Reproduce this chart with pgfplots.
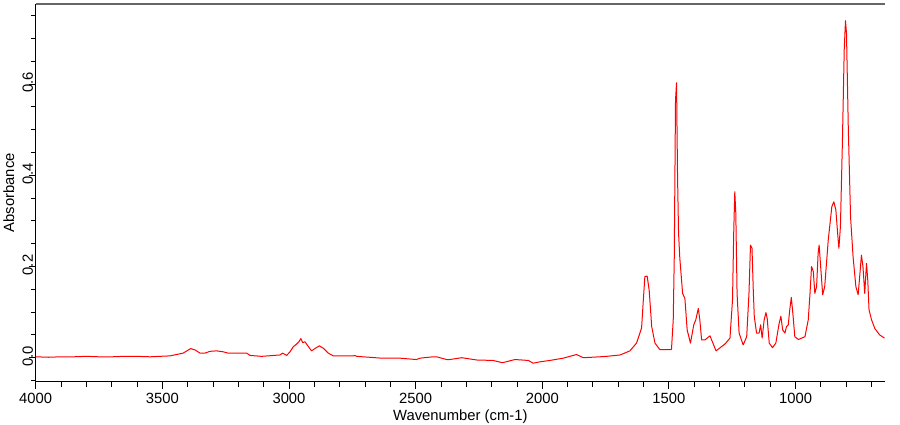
\documentclass[border=0pt]{standalone}
\usepackage{fontspec}
\setmainfont{Liberation Sans}
\usepackage{pgfplots}
\pgfplotsset{compat=1.18}
\begin{document}
\begin{tikzpicture}
\useasboundingbox (0,0) rectangle (900pt,425pt);
\begin{axis}[
  at={(35.7pt,43.3pt)}, anchor=south west,
  scale only axis, width=849.3pt, height=377.7pt,
  x dir=reverse, xmin=647, xmax=4000,
  ymin=-0.0526, ymax=0.7757,
  axis x line*=bottom, axis y line*=left,
  axis line style={black, line width=1pt, -},
  xtick={1000,1500,...,4000}, minor xtick={700,800,...,3900},
  ytick={0,0.2,0.4,0.6}, minor ytick={-0.05,0.05,0.1,0.15,0.25,0.3,0.35,0.45,0.5,0.55,0.65,0.7,0.75},
  tick align=outside, major tick length=7pt, minor tick length=5pt,
  tick style={black, line width=0.9pt},
  /pgf/number format/assume math mode=true,
  x tick label style={/pgf/number format/1000 sep={}},
  y tick label style={/pgf/number format/fixed, /pgf/number format/fixed zerofill, /pgf/number format/precision=1},
  tick label style={font=\fontsize{14.8}{17}\selectfont},
  xticklabel style={anchor=base, inner sep=0pt, yshift=-15pt},
  yticklabel style={rotate=90, anchor=base, inner sep=0pt, xshift=1.5pt, yshift=-4.3pt},
  xlabel={Wavenumber (cm-1)}, ylabel={Absorbance},
  every axis x label/.style={at={(axis description cs:0.5,0)}, anchor=base, inner sep=0pt, yshift=-39pt, font=\fontsize{14.8}{17}\selectfont},
  every axis y label/.style={at={(axis description cs:0,0.5)}, xshift=-21.5pt, rotate=90, anchor=base, inner sep=0pt, font=\fontsize{14.8}{17}\selectfont},
  clip=true,
]
\draw[gray!80!black, line width=1.2pt] (rel axis cs:0,1) -- (rel axis cs:1,1);
\addplot[red, line width=1pt, line join=round] table {
x y
4000 0.002
3950 0.001
3900 0.002
3850 0.002
3800 0.003
3750 0.002
3700 0.002
3650 0.003
3600 0.003
3549 0.002
3470 0.004
3418 0.010
3400 0.016
3388 0.020
3371 0.017
3351 0.010
3332 0.010
3312 0.014
3286 0.015
3260 0.013
3240 0.010
3167 0.010
3154 0.005
3108 0.003
3036 0.006
3025 0.010
3009 0.005
2996 0.013
2983 0.024
2970 0.030
2961 0.035
2953 0.042
2946 0.033
2937 0.035
2928 0.028
2911 0.015
2895 0.021
2880 0.026
2865 0.021
2845 0.010
2825 0.004
2746 0.004
2740 0.005
2733 0.003
2634 -0.001
2562 -0.001
2497 -0.004
2483 -0.001
2431 0.002
2417 0.002
2378 -0.004
2365 -0.004
2318 0.000
2259 -0.005
2194 -0.006
2157 -0.011
2108 -0.004
2055 -0.006
2036 -0.012
2009 -0.009
1970 -0.006
1917 -0.001
1865 0.007
1838 0.000
1772 0.002
1746 0.003
1693 0.006
1654 0.015
1628 0.032
1608 0.065
1601 0.127
1595 0.178
1586 0.179
1578 0.148
1568 0.068
1555 0.032
1536 0.018
1490 0.018
1483 0.083
1479 0.218
1474 0.565
1470 0.603
1466 0.397
1462 0.273
1457 0.218
1446 0.141
1437 0.130
1428 0.061
1415 0.032
1402 0.072
1394 0.083
1384 0.108
1378 0.083
1371 0.039
1358 0.039
1338 0.048
1314 0.015
1279 0.030
1259 0.043
1249 0.127
1244 0.280
1240 0.364
1236 0.317
1231 0.141
1223 0.054
1207 0.028
1193 0.046
1184 0.141
1178 0.247
1172 0.240
1167 0.148
1163 0.090
1154 0.054
1144 0.054
1138 0.072
1132 0.043
1124 0.083
1117 0.099
1112 0.086
1104 0.032
1091 0.022
1078 0.032
1065 0.075
1058 0.091
1051 0.061
1042 0.054
1036 0.068
1029 0.072
1023 0.105
1017 0.132
1012 0.105
1003 0.046
989 0.040
963 0.046
950 0.083
943 0.141
937 0.200
930 0.189
924 0.141
917 0.156
911 0.229
907 0.247
901 0.200
893 0.138
885 0.156
871 0.258
857 0.331
849 0.342
841 0.324
834 0.273
829 0.240
823 0.287
815 0.477
808 0.675
803 0.739
799 0.711
792 0.507
783 0.309
773 0.221
762 0.156
753 0.138
747 0.178
740 0.225
734 0.200
727 0.141
720 0.207
715 0.170
710 0.105
700 0.083
687 0.064
668 0.050
649 0.043
};
\end{axis}
\end{tikzpicture}
\end{document}
